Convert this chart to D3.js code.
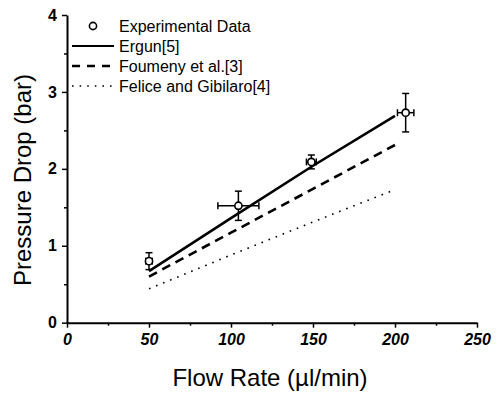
<!DOCTYPE html>
<html>
<head>
<meta charset="utf-8">
<script src="https://cdn.jsdelivr.net/npm/d3@7"></script>
<style>
  body { margin: 0; background: #fff; }
  svg { font-family: "Liberation Sans", Arial, sans-serif; }
</style>
</head>
<body>
<div id="chart"></div>
<script>
// experimental points
const expFlow = [50, 104.5, 149, 206.5];
const expDrop = [0.80, 1.52, 2.09, 2.73];
const expDropErr = [0.11, 0.19, 0.09, 0.25];
const expFlowErr = [2, 12.5, 3, 5];

// model curves
const modelFlow = [50, 100, 150, 200];
const ergun = [0.67, 1.36, 2.04, 2.69];
const foumeny = [0.60, 1.17, 1.74, 2.31];
const felice = [0.44, 0.88, 1.31, 1.73];

const xTicks = [0, 50, 100, 150, 200, 250];
const yTicks = [0, 1, 2, 3, 4];

const legendLabels = ['Experimental Data', 'Ergun[5]', 'Foumeny et al.[3]', 'Felice and Gibilaro[4]'];

const width = 503, height = 394;
const svg = d3.select('#chart').append('svg')
  .attr('width', width)
  .attr('height', height);

// scales
const x = d3.scaleLinear().domain([0, 250]).range([67, 477]);
const y = d3.scaleLinear().domain([0, 4]).range([322.7, 15]);

// minor ticks first
svg.append('g')
  .attr('transform', `translate(0, ${y(0)})`)
  .call(d3.axisBottom(x).tickValues(d3.range(25, 250, 50)).tickSize(3).tickFormat(''))
  .call(g => g.select('.domain').remove())
  .selectAll('line').attr('stroke-width', 1.5);
svg.append('g')
  .attr('transform', `translate(${x(0)}, 0)`)
  .call(d3.axisLeft(y).tickValues(d3.range(0.5, 4, 1)).tickSize(3).tickFormat(''))
  .call(g => g.select('.domain').remove())
  .selectAll('line').attr('stroke-width', 1.5);

// x axis
const xAxis = svg.append('g')
  .attr('transform', `translate(0, ${y(0)})`)
  .call(d3.axisBottom(x).tickValues(xTicks).tickSize(5).tickSizeOuter(0).tickPadding(6).tickFormat(d3.format('d')));
xAxis.select('.domain').attr('stroke-width', 2);
xAxis.selectAll('line').attr('stroke-width', 1.5);
xAxis.selectAll('text')
  .attr('font-size', 16)
  .attr('font-weight', 'bold')
  .attr('font-style', 'italic')
  .attr('fill', '#000');

// y axis
const yAxis = svg.append('g')
  .attr('transform', `translate(${x(0)}, 0)`)
  .call(d3.axisLeft(y).tickValues(yTicks).tickSize(5).tickSizeOuter(0).tickPadding(5).tickFormat(d3.format('d')));
yAxis.select('.domain').attr('stroke-width', 2);
yAxis.selectAll('line').attr('stroke-width', 1.5);
yAxis.selectAll('text')
  .attr('font-size', 16)
  .attr('font-weight', 'bold')
  .attr('fill', '#000');

// axis titles
svg.append('text')
  .attr('x', 270)
  .attr('y', 386)
  .attr('text-anchor', 'middle')
  .attr('font-size', 24)
  .text('Flow Rate (\u00b5l/min)');
svg.append('text')
  .attr('transform', 'translate(31, 180) rotate(-90)')
  .attr('text-anchor', 'middle')
  .attr('font-size', 24)
  .text('Pressure Drop (bar)');

// model lines
const line = d3.line()
  .x(d => x(d[0]))
  .y(d => y(d[1]));
const styles = [
  { data: ergun, width: 2.6, dash: null },
  { data: foumeny, width: 2.6, dash: '9,6' },
  { data: felice, width: 1.6, dash: '1.6,6' }
];
styles.forEach(s => {
  svg.append('path')
    .datum(modelFlow.map((f, i) => [f, s.data[i]]))
    .attr('d', line)
    .attr('fill', 'none')
    .attr('stroke', '#000')
    .attr('stroke-width', s.width)
    .attr('stroke-dasharray', s.dash);
});

// error bars
const pts = expFlow.map((f, i) => ({
  f, p: expDrop[i], pe: expDropErr[i], fe: expFlowErr[i]
}));
const cap = 3.5;
const eb = svg.append('g').attr('stroke', '#000').attr('stroke-width', 1.5);
pts.forEach(d => {
  // vertical
  eb.append('line').attr('x1', x(d.f)).attr('x2', x(d.f))
    .attr('y1', y(d.p - d.pe)).attr('y2', y(d.p + d.pe));
  [d.p - d.pe, d.p + d.pe].forEach(v => {
    eb.append('line').attr('x1', x(d.f) - cap).attr('x2', x(d.f) + cap)
      .attr('y1', y(v)).attr('y2', y(v));
  });
  // horizontal
  eb.append('line').attr('x1', x(d.f - d.fe)).attr('x2', x(d.f + d.fe))
    .attr('y1', y(d.p)).attr('y2', y(d.p));
  [d.f - d.fe, d.f + d.fe].forEach(v => {
    eb.append('line').attr('x1', x(v)).attr('x2', x(v))
      .attr('y1', y(d.p) - cap).attr('y2', y(d.p) + cap);
  });
});

// markers
svg.append('g').selectAll('circle')
  .data(pts)
  .join('circle')
  .attr('cx', d => x(d.f))
  .attr('cy', d => y(d.p))
  .attr('r', 3.6)
  .attr('fill', '#fff')
  .attr('stroke', '#000')
  .attr('stroke-width', 1.6);

// legend
const legend = svg.append('g');
const rowY = [26, 46, 66, 86];
legend.append('circle')
  .attr('cx', 93).attr('cy', rowY[0]).attr('r', 3.6)
  .attr('fill', '#fff').attr('stroke', '#000').attr('stroke-width', 1.6);
styles.forEach((s, i) => {
  legend.append('line')
    .attr('x1', 72).attr('x2', 114)
    .attr('y1', rowY[i + 1]).attr('y2', rowY[i + 1])
    .attr('stroke', '#000')
    .attr('stroke-width', i === 0 ? 2 : s.width)
    .attr('stroke-dasharray', s.dash ? (i === 1 ? '8,7' : '1.6,6') : null);
});
legendLabels.forEach((t, i) => {
  legend.append('text')
    .attr('x', 119)
    .attr('y', rowY[i] + 6)
    .attr('font-size', 16)
    .text(t);
});
</script>
</body>
</html>
